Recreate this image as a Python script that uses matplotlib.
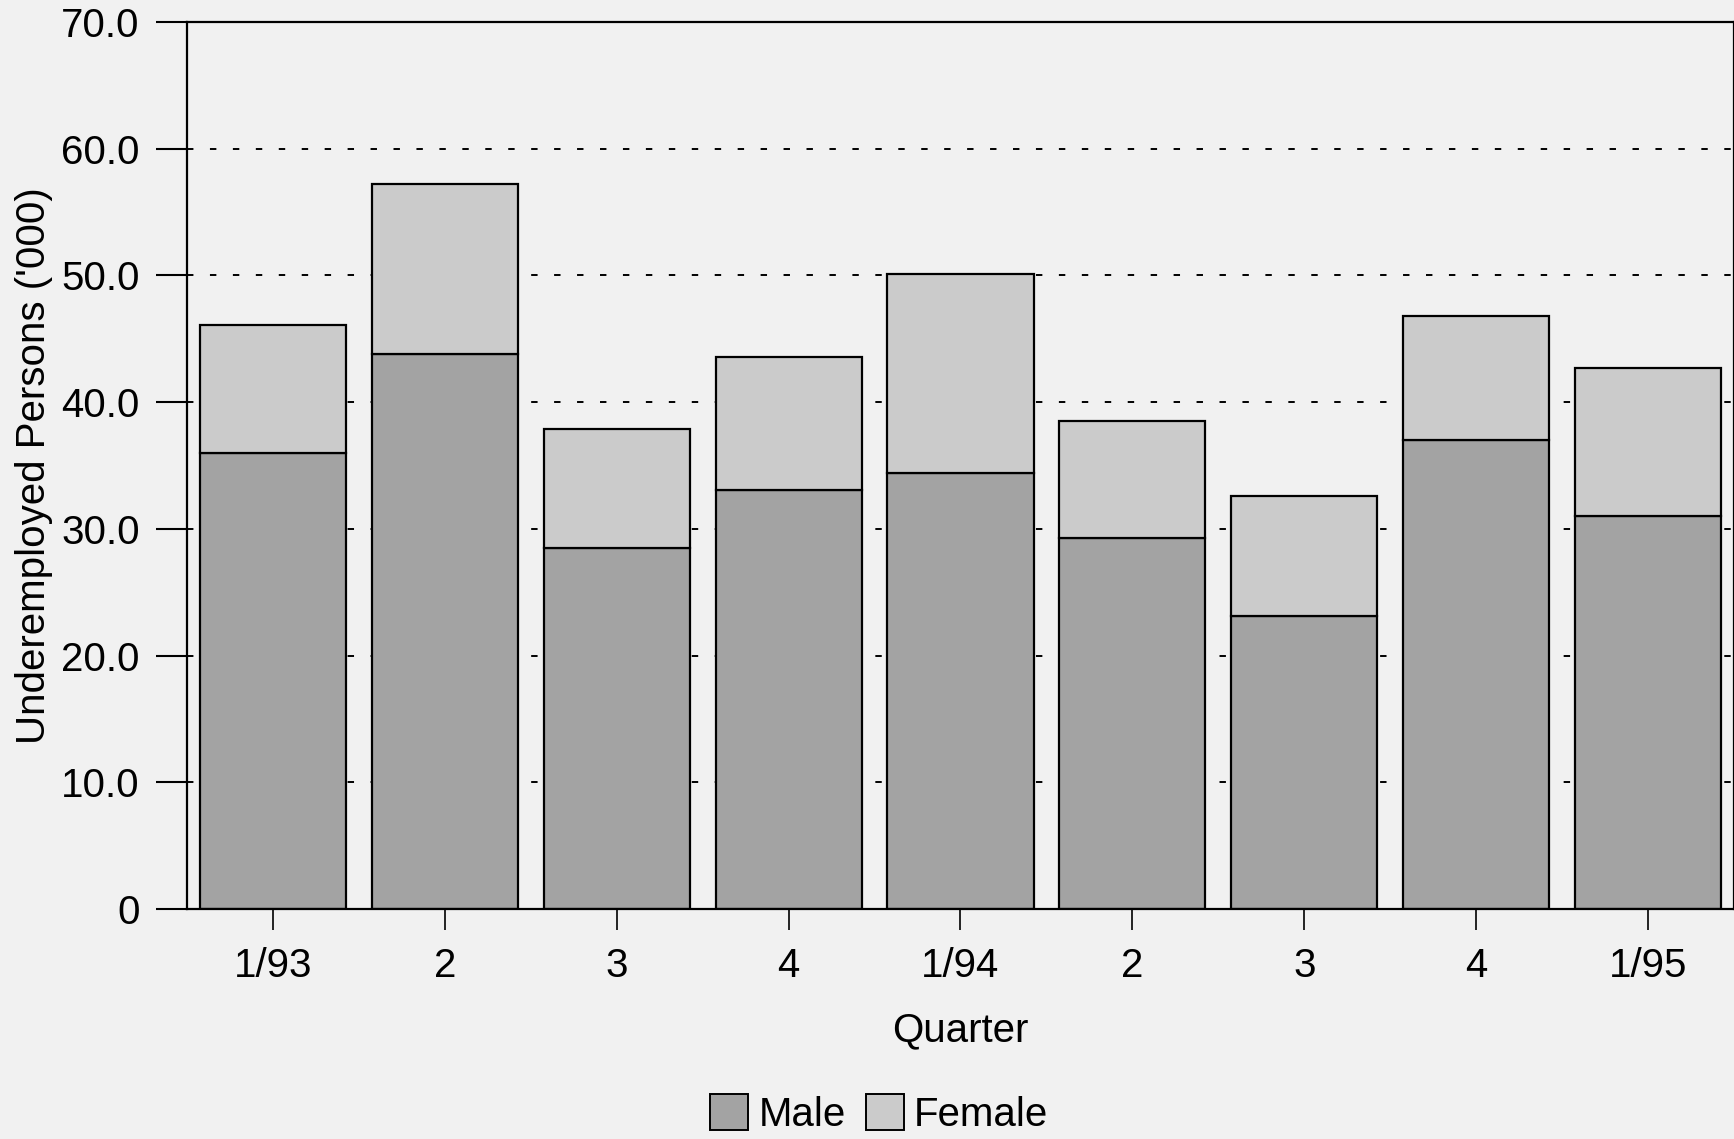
import numpy as np
import matplotlib.pyplot as plt
from matplotlib.patches import Patch

quarters = ["1/93", "2", "3", "4", "1/94", "2", "3", "4", "1/95"]
male = [36.0, 43.8, 28.5, 33.1, 34.4, 29.3, 23.1, 37.0, 31.0]
total = [46.1, 57.2, 37.9, 43.6, 50.1, 38.5, 32.6, 46.8, 42.7]
female = [t - m for t, m in zip(total, male)]
yticks = [0, 10, 20, 30, 40, 50, 60, 70]
ytick_labels = ["0", "10.0", "20.0", "30.0", "40.0", "50.0", "60.0", "70.0"]

plt.rcParams['font.family'] = ['Liberation Sans', 'DejaVu Sans']

bg = '#f1f1f1'
male_col = '#a3a3a3'
female_col = '#cbcbcb'
fs = 29

fig = plt.figure(figsize=(17.34, 11.39), dpi=100, facecolor=bg)
ax = fig.add_axes([0.1078, 0.2019, 0.8922, 0.7788], facecolor=bg)

x = np.arange(len(quarters))
ax.bar(x, male, width=0.85, color=male_col, edgecolor='black', linewidth=1.6, zorder=2)
ax.bar(x, female, width=0.85, bottom=male, color=female_col, edgecolor='black',
       linewidth=1.6, zorder=2)

ax.set_xlim(-0.5, len(quarters) - 0.5)
ax.set_ylim(0, 70)
ax.set_yticks(yticks)
ax.set_yticklabels(ytick_labels)
ax.set_xticks(x)
ax.set_xticklabels(quarters)

ax.tick_params(axis='y', direction='out', length=22, width=1.5, labelsize=fs, pad=12)
ax.tick_params(axis='x', direction='out', length=15, width=1.2, labelsize=fs, pad=12)

for s in ax.spines.values():
    s.set_linewidth(1.6)

# dotted grid lines, not at the top (spine there)
for v in yticks[1:-1]:
    ax.axhline(v, color='black', linewidth=1.4, linestyle=(0, (3.3, 8.5)), zorder=1)

ax.set_ylabel("Underemployed Persons ('000)", fontsize=fs)
ax.yaxis.set_label_coords(-0.0866, 0.5)
ax.set_xlabel("Quarter", fontsize=fs, labelpad=19)

handles = [Patch(facecolor=male_col, edgecolor='black', linewidth=1.4, label='Male'),
           Patch(facecolor=female_col, edgecolor='black', linewidth=1.4, label='Female')]
fig.legend(handles=handles, loc='center', bbox_to_anchor=(0.507, 0.022), ncol=2,
           frameon=False, fontsize=fs, handlelength=0.95, handleheight=1.0,
           handletextpad=0.25, columnspacing=0.5)

fig.savefig("out.png", dpi=100, facecolor=bg)
